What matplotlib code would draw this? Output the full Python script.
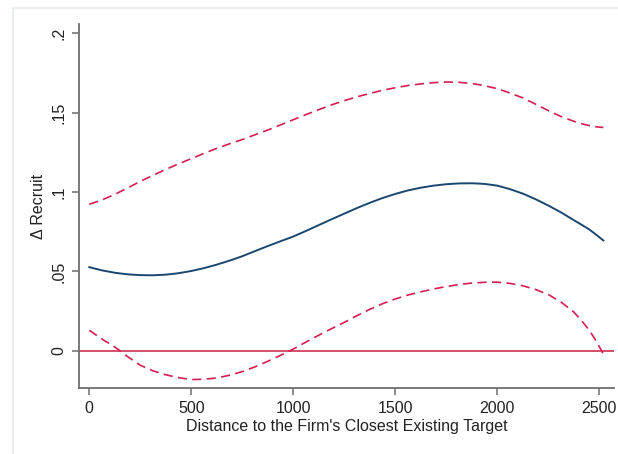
import matplotlib
matplotlib.use("Agg")
import matplotlib.pyplot as plt
from matplotlib.patches import Rectangle

plt.rcParams['font.family'] = ['Liberation Sans', 'DejaVu Sans']

# Marginal effect of distance on recruiting, with 95% confidence band
distance = [0, 62, 125, 187, 250, 312, 375, 437, 500, 562, 625, 687, 750, 812,
            875, 937, 1000, 1062, 1125, 1187, 1250, 1312, 1375, 1437, 1500,
            1562, 1625, 1687, 1750, 1812, 1875, 1937, 2000, 2062, 2125, 2187,
            2250, 2312, 2375, 2412, 2450, 2485, 2520]
effect = [0.0527, 0.0507, 0.0492, 0.0482, 0.0477, 0.0476, 0.0480, 0.0489,
          0.0503, 0.0521, 0.0543, 0.0568, 0.0596, 0.0628, 0.0660, 0.0690,
          0.0720, 0.0755, 0.0792, 0.0828, 0.0864, 0.0899, 0.0932, 0.0962,
          0.0988, 0.1010, 0.1027, 0.1040, 0.1049, 0.1054, 0.1055, 0.1051,
          0.1040, 0.1018, 0.0990, 0.0955, 0.0915, 0.0872, 0.0823, 0.0795,
          0.0765, 0.0731, 0.0695]
upper = [0.0923, 0.0950, 0.0985, 0.1025, 0.1067, 0.1105, 0.1142, 0.1177,
         0.1210, 0.1243, 0.1275, 0.1303, 0.1330, 0.1360, 0.1390, 0.1422,
         0.1455, 0.1487, 0.1518, 0.1548, 0.1575, 0.1599, 0.1620, 0.1640,
         0.1656, 0.1670, 0.1680, 0.1688, 0.1692, 0.1690, 0.1683, 0.1669,
         0.1650, 0.1623, 0.1592, 0.1553, 0.1512, 0.1475, 0.1445, 0.1430,
         0.1418, 0.1410, 0.1406]
lower = [0.0130, 0.0075, 0.0025, -0.0035, -0.0090, -0.0125, -0.0150, -0.0168,
         -0.0180, -0.0178, -0.0170, -0.0153, -0.0130, -0.0100, -0.0065, -0.0028,
         0.0012, 0.0056, 0.0099, 0.0140, 0.0180, 0.0222, 0.0262, 0.0297,
         0.0327, 0.0352, 0.0372, 0.0390, 0.0405, 0.0418, 0.0427, 0.0432,
         0.0433, 0.0425, 0.0410, 0.0387, 0.0355, 0.0308, 0.0245, 0.0192,
         0.0132, 0.0062, -0.0020]

x_ticks = [0, 500, 1000, 1500, 2000, 2500]
y_ticks = [0, 0.05, 0.1, 0.15, 0.2]
y_tick_labels = ["0", ".05", ".1", ".15", ".2"]

navy = "#1a476f"
crimson = "#d41e50"
zero_red = "#c8203e"
axis_gray = "#6e6e6e"

fig = plt.figure(figsize=(6.18, 4.54), dpi=100)
fig.patch.set_facecolor("white")

# faint outer frame of the graph region
fig.patches.append(Rectangle((13 / 618, -0.2), 1.2, 1.2 - 8 / 454,
                             transform=fig.transFigure, fill=False,
                             edgecolor="#e4ebed", linewidth=1.2))

ax = fig.add_axes([79.3 / 618, 1 - 388.3 / 454, (614 - 79.3) / 618, (388.3 - 24) / 454])
ax.set_facecolor("white")

ax.axhline(0, color=zero_red, linewidth=1.1, zorder=1)
ax.plot(distance, upper, color=crimson, linewidth=1.2, dashes=(5.5, 3.2), zorder=2)
ax.plot(distance, lower, color=crimson, linewidth=1.2, dashes=(5.5, 3.2), zorder=2)
ax.plot(distance, effect, color=navy, linewidth=1.4, zorder=3)

ax.set_xlim(-49, 2572)
ax.set_ylim(-0.0235, 0.2057)

ax.set_xticks(x_ticks)
ax.set_xticklabels([str(t) for t in x_ticks])
ax.set_yticks(y_ticks)
ax.set_yticklabels(y_tick_labels, rotation=90, va="center")

for s in ["top", "right"]:
    ax.spines[s].set_visible(False)
for s in ["left", "bottom"]:
    ax.spines[s].set_color(axis_gray)
    ax.spines[s].set_linewidth(1.3)

ax.tick_params(axis="both", colors=axis_gray, labelcolor="#222222",
               labelsize=11.5, length=5, width=1.1, pad=4)

ax.set_xlabel("Distance to the Firm's Closest Existing Target", fontsize=11.5,
              color="#222222", labelpad=2)
ax.set_ylabel("\u0394 Recruit", fontsize=11.5, color="#222222", labelpad=4)

fig.savefig("out.png", dpi=100, facecolor="white")
